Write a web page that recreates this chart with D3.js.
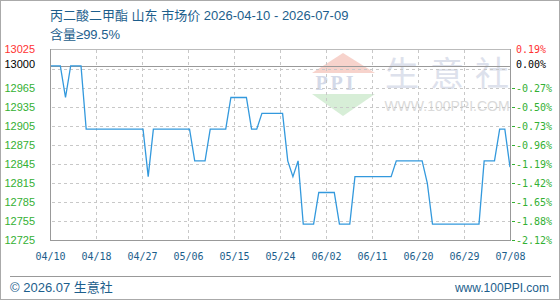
<!DOCTYPE html>
<html>
<head>
<meta charset="utf-8">
<script src="https://cdn.jsdelivr.net/npm/d3@7"></script>
<style>
  html, body { margin: 0; padding: 0; background: #fff; }
  svg { display: block; }
</style>
</head>
<body>
<div id="chart"></div>
<script>
// ── Data ───────────────────────────────────────────────
const startDate = '2026-04-10';
const endDate   = '2026-07-08';
// daily prices (yuan/ton), 04/10 .. 07/08
const prices = [
  13000, 13000, 13000, 12950, 13000, 13000, 13000, 12900, 12900, 12900,
  12900, 12900, 12900, 12900, 12900, 12900, 12900, 12900, 12900, 12825,
  12900, 12900, 12900, 12900, 12900, 12900, 12900, 12900, 12850, 12850,
  12850, 12900, 12900, 12900, 12900, 12950, 12950, 12950, 12950, 12900,
  12900, 12925, 12925, 12925, 12925, 12925, 12850, 12825, 12850, 12750,
  12750, 12750, 12800, 12800, 12800, 12800, 12750, 12750, 12750, 12825,
  12825, 12825, 12825, 12825, 12825, 12825, 12825, 12850, 12850, 12850,
  12850, 12850, 12850, 12815, 12750, 12750, 12750, 12750, 12750, 12750,
  12750, 12750, 12750, 12750, 12850, 12850, 12850, 12900, 12900, 12840
];
const basePrice   = 13000;
const yMin = 12725, yMax = 13025;
const gridValues  = [12755, 12785, 12815, 12845, 12875, 12905, 12935, 12965, 12995];
const leftLabels  = [12725, 12755, 12785, 12815, 12845, 12875, 12905, 12935, 12965];
const rightLabels = ['-2.12%', '-1.88%', '-1.65%', '-1.42%', '-1.19%', '-0.96%', '-0.73%', '-0.50%', '-0.27%'];
const xTickLabels = ['04/10', '04/18', '04/27', '05/06', '05/15', '05/24', '06/02', '06/11', '06/20', '06/29', '07/08'];

const title    = '丙二酸二甲酯 山东 市场价 2026-04-10 - 2026-07-09';
const subtitle = '含量≥99.5%';

// ── Layout ─────────────────────────────────────────────
const W = 560, H = 300;
const plot = { left: 50, right: 510, top: 50, bottom: 240 };
const blue  = '#1c5e8c';
const green = '#33b033';
const red   = '#ff3333';
const sansFont = "'Liberation Sans', Arial, 'Noto Sans CJK SC', sans-serif";
const monoFont = "'DejaVu Sans Mono', monospace";

const svg = d3.select('#chart').append('svg')
  .attr('width', W).attr('height', H);

// outer frame
svg.append('rect')
  .attr('x', 0.5).attr('y', 0.5)
  .attr('width', W - 1).attr('height', H - 1)
  .attr('fill', '#fff').attr('stroke', '#aaa');

// Scales
const t0 = d3.utcParse('%Y-%m-%d')(startDate);
const t1 = d3.utcParse('%Y-%m-%d')(endDate);
const x = d3.scaleUtc().domain([t0, t1]).range([plot.left, plot.right]);
const y = d3.scaleLinear().domain([yMin, yMax]).range([plot.bottom, plot.top]);
const data = prices.map((v, i) => ({ date: d3.utcDay.offset(t0, i), value: v }));
const xTicks = d3.range(xTickLabels.length)
  .map(i => new Date(+t0 + i * (t1 - t0) / (xTickLabels.length - 1)));

// ── Watermark ──────────────────────────────────────────
const wm = svg.append('g');
wm.append('path')
  .attr('d', 'M312,73 L343,53 L375,73 Z')
  .attr('fill', '#f7d3cc');
wm.append('text')
  .attr('x', 336).attr('y', 90)
  .attr('text-anchor', 'middle')
  .attr('font-family', "'Liberation Serif', serif")
  .attr('font-weight', 'bold')
  .attr('font-size', 20)
  .attr('letter-spacing', 3)
  .attr('fill', '#d3d9e8')
  .text('PPI');
wm.append('path')
  .attr('d', 'M312,94 L375,94 L343,116 Z')
  .attr('fill', '#d7eed7');
wm.selectAll('.wmc')
  .data(['生', '意', '社'])
  .enter().append('text')
  .attr('x', (d, i) => 402 + i * 45)
  .attr('y', 86)
  .attr('text-anchor', 'middle')
  .attr('font-family', "'Noto Sans CJK SC', sans-serif")
  .attr('font-size', 34)
  .attr('fill', '#dde1ec')
  .text(d => d);
wm.append('text')
  .attr('x', 447).attr('y', 111)
  .attr('text-anchor', 'middle')
  .attr('font-family', sansFont)
  .attr('font-size', 14)
  .attr('fill', '#dadada')
  .text('WWW.100PPI.COM');

// ── Grid ───────────────────────────────────────────────
const grid = svg.append('g').attr('shape-rendering', 'crispEdges');
grid.selectAll('.hgrid')
  .data(gridValues)
  .enter().append('line')
  .attr('x1', plot.left + 2).attr('x2', plot.right)
  .attr('y1', d => Math.round(y(d)) + 0.5).attr('y2', d => Math.round(y(d)) + 0.5)
  .attr('stroke', '#c8c8c8').attr('stroke-dasharray', '3,3');
grid.selectAll('.vgrid')
  .data(xTicks.slice(1, -1))
  .enter().append('line')
  .attr('x1', d => Math.round(x(d)) + 0.5).attr('x2', d => Math.round(x(d)) + 0.5)
  .attr('y1', plot.top).attr('y2', plot.bottom)
  .attr('stroke', '#c8c8c8').attr('stroke-dasharray', '3,3');

// top border (light), base price line
grid.append('line')
  .attr('x1', plot.left).attr('x2', plot.right)
  .attr('y1', plot.top - 0.5).attr('y2', plot.top - 0.5)
  .attr('stroke', '#bbb');
grid.append('line')
  .attr('x1', plot.left).attr('x2', plot.right)
  .attr('y1', Math.round(y(basePrice)) + 0.5).attr('y2', Math.round(y(basePrice)) + 0.5)
  .attr('stroke', '#999');

// ── Line ───────────────────────────────────────────────
svg.append('path')
  .datum(data)
  .attr('fill', 'none')
  .attr('stroke', '#3399dd')
  .attr('stroke-width', 1.3)
  .attr('d', d3.line().x(d => x(d.date)).y(d => y(d.value)));

// ── Axes ───────────────────────────────────────────────
const axes = svg.append('g').attr('shape-rendering', 'crispEdges');
axes.append('line')
  .attr('x1', plot.left + 0.5).attr('x2', plot.left + 0.5)
  .attr('y1', plot.top - 1).attr('y2', plot.bottom + 1)
  .attr('stroke', '#999').attr('stroke-width', 1.5);
axes.append('line')
  .attr('x1', plot.right + 0.5).attr('x2', plot.right + 0.5)
  .attr('y1', plot.top - 1).attr('y2', plot.bottom + 1)
  .attr('stroke', '#999').attr('stroke-width', 1.5);
axes.append('line')
  .attr('x1', plot.left).attr('x2', plot.right + 1)
  .attr('y1', plot.bottom + 0.5).attr('y2', plot.bottom + 0.5)
  .attr('stroke', '#999').attr('stroke-width', 1.5);

// right-side green tick marks
axes.selectAll('.rtick')
  .data(gridValues.slice(0, -1).concat([yMin]))
  .enter().append('line')
  .attr('x1', plot.right + 2).attr('x2', plot.right + 5)
  .attr('y1', d => Math.round(y(d)) + 0.5).attr('y2', d => Math.round(y(d)) + 0.5)
  .attr('stroke', green);

// x axis labels
const xAxis = d3.axisBottom(x)
  .tickValues(xTicks)
  .tickSize(0)
  .tickPadding(13)
  .tickFormat((d, i) => xTickLabels[i]);
const xg = svg.append('g')
  .attr('transform', `translate(0,${plot.bottom})`)
  .call(xAxis);
xg.select('.domain').remove();
xg.selectAll('text')
  .attr('fill', blue)
  .attr('font-family', monoFont)
  .attr('font-size', 10);

// left labels
const leftG = svg.append('g').attr('font-family', sansFont).attr('font-size', 11)
  .attr('text-anchor', 'end');
leftG.selectAll('.ll')
  .data(leftLabels)
  .enter().append('text')
  .attr('x', 35)
  .attr('y', d => y(d) + 4)
  .attr('fill', green)
  .text(d => d);
leftG.append('text').attr('x', 35).attr('y', y(yMax) + 3).attr('fill', red).text(yMax);
leftG.append('text').attr('x', 35).attr('y', y(basePrice) + 2).attr('fill', '#000').text(basePrice);

// right labels
const rightG = svg.append('g').attr('font-family', monoFont).attr('font-size', 10);
rightG.selectAll('.rl')
  .data(rightLabels)
  .enter().append('text')
  .attr('x', 516)
  .attr('y', (d, i) => y(leftLabels[i]) + 4)
  .attr('fill', green)
  .text(d => d);
rightG.append('text').attr('x', 516).attr('y', y(yMax) + 3).attr('fill', red).text('0.19%');
rightG.append('text').attr('x', 516).attr('y', y(basePrice) + 2).attr('fill', '#000').text('0.00%');

// ── Titles ─────────────────────────────────────────────
svg.append('text')
  .attr('x', 50).attr('y', 20)
  .attr('font-family', sansFont).attr('font-size', 13)
  .attr('fill', blue)
  .text(title);
svg.append('text')
  .attr('x', 50).attr('y', 39)
  .attr('font-family', sansFont).attr('font-size', 13)
  .attr('fill', blue)
  .text(subtitle);

// ── Footer ─────────────────────────────────────────────
svg.append('line')
  .attr('x1', 10).attr('x2', 551)
  .attr('y1', 276.5).attr('y2', 276.5)
  .attr('stroke', '#999');
svg.append('text')
  .attr('x', 10).attr('y', 292)
  .attr('font-family', sansFont).attr('font-size', 13)
  .attr('fill', blue)
  .text('© 2026.07 生意社');
svg.append('text')
  .attr('x', 549).attr('y', 292)
  .attr('text-anchor', 'end')
  .attr('font-family', sansFont).attr('font-size', 12)
  .attr('fill', blue)
  .text('www.100PPI.com');
</script>
</body>
</html>
